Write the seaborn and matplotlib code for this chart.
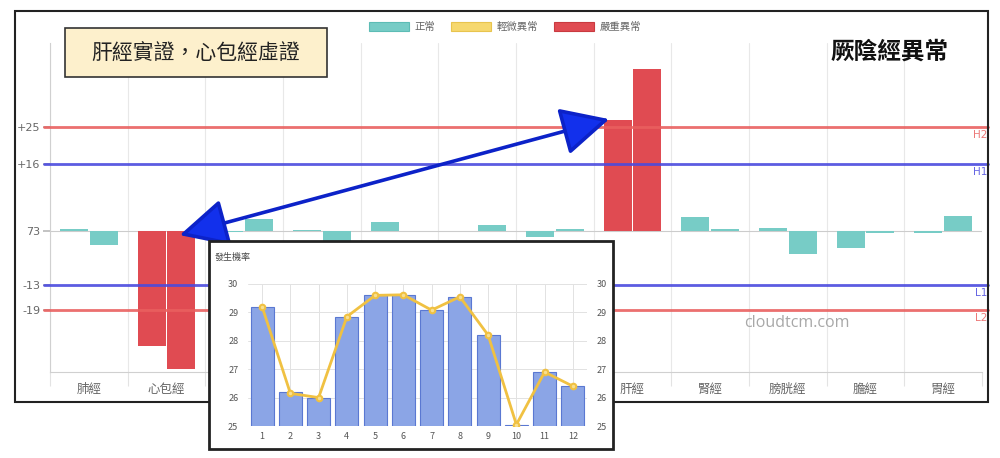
import numpy as np
import pandas as pd
import seaborn as sns
import matplotlib.pyplot as plt
import matplotlib.transforms as mtransforms
from matplotlib.patches import Rectangle, Patch

# main chart data (deviation from baseline 73)
meridians = ['肺經', '心包經', '心經', '小腸經', '三焦經', '大腸經',
             '脾經', '肝經', '腎經', '膀胱經', '膽經', '胃經']
left_vals = [0.4, -27.6, -0.3, 0.2, 2.2, 0.0, -1.4, 26.7, 3.4, 0.8, -4.1, -0.6]
right_vals = [-3.3, -33.2, 2.8, -3.0, 0.0, 1.4, 0.4, 38.9, 0.4, -5.5, -0.4, 3.6]
status = ['正常', '嚴重異常', '正常', '正常', '正常', '正常',
          '正常', '嚴重異常', '正常', '正常', '正常', '正常']
baseline = 73
thresholds = [25, 16, -13, -19]
threshold_names = ['H2', 'H1', 'L1', 'L2']
legend_labels = ['正常', '輕微異常', '嚴重異常']

# inset data
months = [str(i) for i in range(1, 13)]
prob_bars = [29.2, 26.18, 26.0, 28.85, 29.6, 29.62, 29.1, 29.55, 28.2, 25.05, 26.9, 26.4]
prob_line = [29.2, 26.15, 26.0, 28.85, 29.6, 29.62, 29.08, 29.55, 28.2, 25.05, 26.9, 26.4]

sns.set_theme(style='white')
plt.rcParams['font.family'] = ['Noto Sans CJK TC', 'DejaVu Sans']

status_colors = {'正常': '#77ccc6', '輕微異常': '#f6d86e', '嚴重異常': '#e04b52'}
status_edges = {'正常': '#5dbcb5', '輕微異常': '#e8c44e', '嚴重異常': '#c93a40'}
line_colors = {'H2': '#e9605f', 'H1': '#4a4ade', 'L1': '#4a4ade', 'L2': '#e9605f'}

fig = plt.figure(figsize=(10, 4.58), dpi=100)

# outer frame
fig.add_artist(Rectangle((0.015, 1 - 402 / 458), 0.973, 391 / 458,
                         transform=fig.transFigure, fill=False,
                         ec='#222222', lw=1.5, zorder=1))

ax = fig.add_axes([0.05, 0.188, 0.932, 0.718])
df = pd.DataFrame({
    '經絡': meridians * 2,
    '側': ['左'] * len(meridians) + ['右'] * len(meridians),
    '值': left_vals + right_vals,
})
sns.barplot(data=df, x='經絡', y='值', hue='側', order=meridians,
            hue_order=['左', '右'], width=0.76, gap=0.05, errorbar=None,
            saturation=1, legend=False, ax=ax)
for cont in ax.containers:
    for bar, s in zip(cont, status):
        bar.set_facecolor(status_colors[s])
        bar.set_edgecolor('none')
        bar.set_zorder(2)

ax.set_xlim(-0.5, len(meridians) - 0.5)
ax.set_ylim(-33.9, 45.2)
ax.set_xlabel('')
ax.set_ylabel('')

# zero line (baseline)
ax.axhline(0, color='#cccccc', lw=0.8, zorder=1)

trans = mtransforms.blended_transform_factory(ax.transAxes, ax.transData)
for v, name in zip(thresholds, threshold_names):
    c = line_colors[name]
    ax.axhline(v, xmin=-0.006, xmax=1.006, color=c, lw=2.0, alpha=0.9,
               clip_on=False, zorder=3)
    ax.text(1.006, v - 1.9, name, transform=trans, ha='right', va='center',
            color=c, fontsize=7.5, family='DejaVu Sans', alpha=0.85)

yticks = [25, 16, 0, -13, -19]
ytick_labels = ['+25', '+16', str(baseline), '-13', '-19']
ax.set_yticks(yticks)
ax.set_yticklabels(ytick_labels, family='DejaVu Sans')
ax.tick_params(axis='y', length=5, color='#bbbbbb', labelcolor='#666666',
               labelsize=8, left=True, pad=2)

ax.set_xticks(range(len(meridians)))
ax.set_xticklabels(meridians)
ax.tick_params(axis='x', which='major', length=0, labelcolor='#666666',
               labelsize=9, pad=8)
ax.set_xticks(np.arange(-0.5, len(meridians), 1), minor=True)
ax.tick_params(axis='x', which='minor', length=10, color='#e3e3e3',
               bottom=True, width=0.8)
ax.grid(which='minor', axis='x', color='#e8e8e8', lw=0.8)
ax.grid(which='major', axis='y', visible=False)
ax.set_axisbelow(True)
for side in ['top', 'right']:
    ax.spines[side].set_visible(False)
for side in ['left', 'bottom']:
    ax.spines[side].set_color('#d0d0d0')
    ax.spines[side].set_linewidth(0.8)

# double arrow between 心包經 and 肝經
ax.annotate('', xy=(1.17, -1.0), xytext=(6.7, 26.9),
            arrowprops=dict(arrowstyle='<|-|>,head_length=1.5,head_width=0.75',
                            color='#1230ec', ec='#0c22c8', lw=2.6,
                            mutation_scale=20, shrinkA=0, shrinkB=0),
            zorder=6, annotation_clip=False)

# legend
handles = [Patch(fc=status_colors[l], ec=status_edges[l], lw=0.8, label=l)
           for l in legend_labels]
leg = fig.legend(handles=handles, loc='center', bbox_to_anchor=(0.505, 1 - 27 / 458),
                 ncol=3, frameon=False, fontsize=7.5, handlelength=3.8,
                 handleheight=1.0, columnspacing=1.6, handletextpad=0.5)
for t in leg.get_texts():
    t.set_color('#666666')

# note box and title
fig.add_artist(Rectangle((0.065, 1 - 77 / 458), 0.262, 49 / 458,
                         transform=fig.transFigure, fc='#fdf0cc',
                         ec='#333333', lw=1.2, zorder=3))
fig.text(0.196, 1 - 53 / 458, '肝經實證，心包經虛證', ha='center', va='center',
         fontsize=15, color='#222222', zorder=4)
fig.text(0.89, 1 - 52 / 458, '厥陰經異常', ha='center', va='center',
         fontsize=17, weight='bold', color='#111111')
fig.text(0.797, 1 - 323 / 458, 'cloudtcm.com', ha='center', va='center',
         fontsize=11.5, color='#a8a8a8', family='Open Sans')

# inset: monthly probability
fig.add_artist(Rectangle((0.209, 1 - 449 / 458), 0.404, 208 / 458,
                         transform=fig.transFigure, fc='white',
                         ec='#222222', lw=2, zorder=2))
ax2 = fig.add_axes([0.248, 1 - 426 / 458, 0.339, 142 / 458])
ax2.set_zorder(3)
sns.barplot(x=months, y=prob_bars, color='#8ba5e6', edgecolor='#5a78d2',
            linewidth=0.8, width=0.81, saturation=1, errorbar=None, ax=ax2)
sns.pointplot(x=months, y=prob_line, color='#f0c142', markers='o',
              markersize=4, linewidth=2, errorbar=None, ax=ax2)
for ln in ax2.lines:
    ln.set_markerfacecolor('#f8df90')
    ln.set_markeredgecolor('#f0c142')
ax2.set_ylim(25, 30)
ax2.set_xlim(-0.5, 11.5)
ax2.set_yticks(range(25, 31))
ax2.grid(True, color='#e2e2e2', lw=0.7)
ax2.set_axisbelow(True)
ax2.tick_params(labelsize=6.5, labelcolor='#555555', length=0)
ax2.tick_params(axis='y', pad=7)
ax2.tick_params(axis='x', pad=4)
ax2.set_xlabel('')
ax2.set_ylabel('')
for s in ax2.spines.values():
    s.set_visible(False)

ax3 = ax2.twinx()
ax3.set_zorder(4)
ax3.patch.set_visible(False)
ax3.set_ylim(25, 30)
ax3.set_yticks(range(25, 31))
ax3.tick_params(labelsize=6.5, labelcolor='#555555', length=0, pad=7)
ax3.grid(False)
for s in ax3.spines.values():
    s.set_visible(False)

fig.text(0.215, 1 - 257 / 458, '發生機率', fontsize=6.5, color='#444444',
         va='center', zorder=5)

fig.savefig('out.png', dpi=100)
